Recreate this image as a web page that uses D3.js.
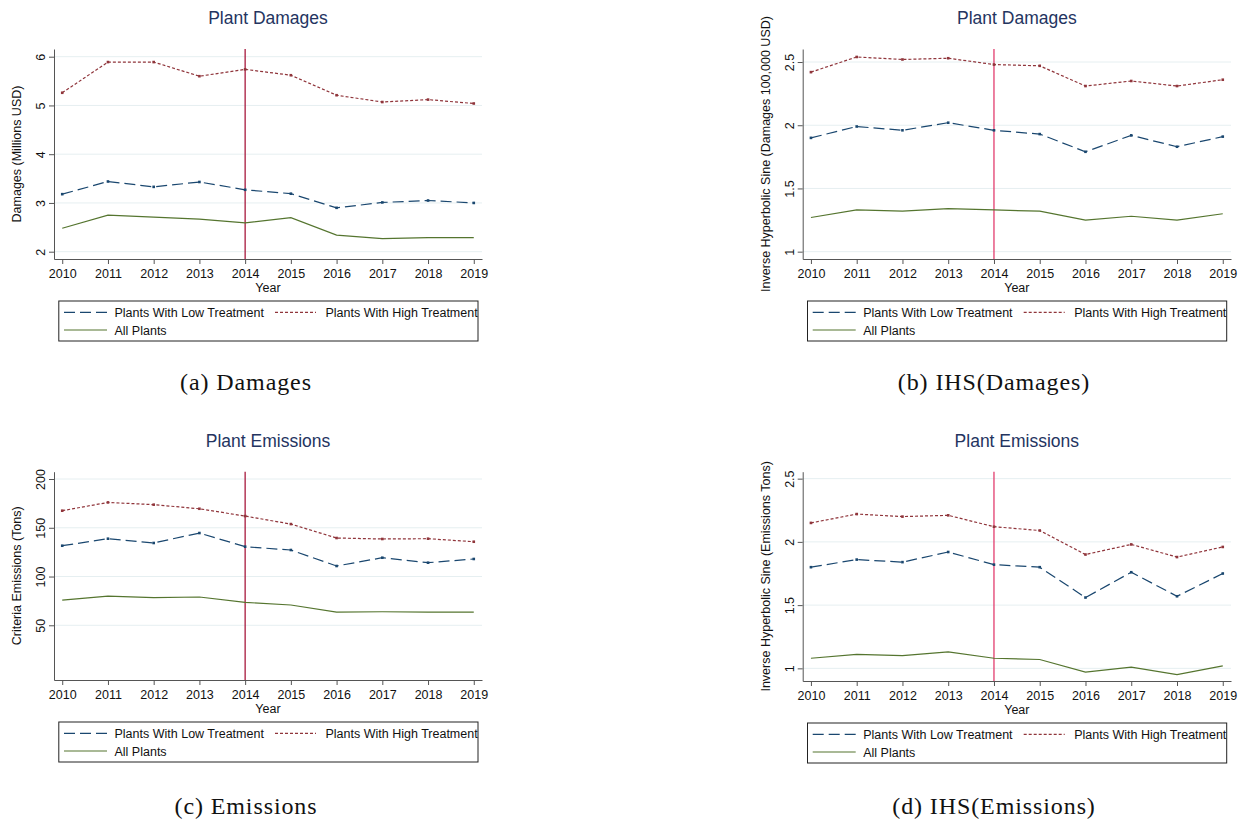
<!DOCTYPE html>
<html>
<head>
<meta charset="utf-8">
<script src="https://cdn.jsdelivr.net/npm/d3@7"></script>
<style>
  html, body { margin: 0; padding: 0; background: #ffffff; }
  svg { display: block; }
</style>
</head>
<body>
<svg id="chart" width="1245" height="820"></svg>
<script>
// ---------------- DATA ----------------
const years = [2010, 2011, 2012, 2013, 2014, 2015, 2016, 2017, 2018, 2019];
const treatmentYear = 2014;

const seriesLabels = ["Plants With Low Treatment", "Plants With High Treatment", "All Plants"];

// (a) Damages (Millions USD)
const damagesLow  = [3.18, 3.44, 3.33, 3.43, 3.27, 3.19, 2.90, 3.01, 3.05, 3.00];
const damagesHigh = [5.26, 5.89, 5.89, 5.60, 5.74, 5.62, 5.21, 5.07, 5.12, 5.04];
const damagesAll  = [2.48, 2.75, 2.71, 2.67, 2.59, 2.70, 2.34, 2.27, 2.29, 2.29];

// (b) IHS(Damages)
const ihsDamagesLow  = [1.90, 1.99, 1.96, 2.02, 1.96, 1.93, 1.79, 1.92, 1.83, 1.91];
const ihsDamagesHigh = [2.42, 2.54, 2.52, 2.53, 2.48, 2.47, 2.31, 2.35, 2.31, 2.36];
const ihsDamagesAll  = [1.27, 1.33, 1.32, 1.34, 1.33, 1.32, 1.25, 1.28, 1.25, 1.30];

// (c) Emissions (Tons)
const emissionsLow  = [131.6, 138.8, 134.4, 144.6, 130.6, 127.2, 110.8, 119.3, 114.2, 118.0];
const emissionsHigh = [167.5, 176.0, 173.7, 169.5, 162.0, 153.8, 139.5, 138.5, 138.8, 135.7];
const emissionsAll  = [75.9, 80.0, 78.3, 79.0, 73.5, 70.8, 63.6, 63.9, 63.6, 63.6];

// (d) IHS(Emissions)
const ihsEmissionsLow  = [1.80, 1.86, 1.84, 1.92, 1.82, 1.80, 1.56, 1.76, 1.57, 1.75];
const ihsEmissionsHigh = [2.15, 2.22, 2.20, 2.21, 2.12, 2.09, 1.90, 1.98, 1.88, 1.96];
const ihsEmissionsAll  = [1.08, 1.11, 1.10, 1.13, 1.08, 1.07, 0.97, 1.01, 0.95, 1.02];

// Tick labels
const damagesTicks   = [2, 3, 4, 5, 6];
const ihsTicks       = [1, 1.5, 2, 2.5];
const emissionsTicks = [50, 100, 150, 200];

const panelTitles = ["Plant Damages", "Plant Damages", "Plant Emissions", "Plant Emissions"];
const yTitles = ["Damages (Millions USD)", "Inverse Hyperbolic Sine (Damages 100,000 USD)",
                 "Criteria Emissions (Tons)", "Inverse Hyperbolic Sine (Emissions Tons)"];
const xTitle = "Year";
const captions = ["(a) Damages", "(b) IHS(Damages)", "(c) Emissions", "(d) IHS(Emissions)"];

// ---------------- STYLE ----------------
const colors = ["#1a476f", "#90353b", "#55752f"];
const dashes = ["11,5", "3,2", null];
const sansFont = "'Liberation Sans', Arial, Helvetica, sans-serif";
const serifFont = "'Liberation Serif', 'Times New Roman', serif";

const svg = d3.select("#chart");
svg.append("rect").attr("width", 1245).attr("height", 820).attr("fill", "#ffffff");

const panels = [
  { left: 54,    right: 482,  top: 49,    bottom: 259, yDomain: [1.850, 6.158], ticks: damagesTicks,
    series: [damagesLow, damagesHigh, damagesAll], vcolor: "#a8193d", titleY: 24, capY: 390, capX: 246 },
  { left: 802.7, right: 1231, top: 49,    bottom: 259, yDomain: [0.942, 2.603], ticks: ihsTicks,
    series: [ihsDamagesLow, ihsDamagesHigh, ihsDamagesAll], vcolor: "#e23d6e", titleY: 24, capY: 390, capX: 994 },
  { left: 54,    right: 482,  top: 471.7, bottom: 680, yDomain: [-6.1, 207.5], ticks: emissionsTicks,
    series: [emissionsLow, emissionsHigh, emissionsAll], vcolor: "#a8193d", titleY: 446.7, capY: 814, capX: 246 },
  { left: 802.7, right: 1231, top: 471.7, bottom: 681, yDomain: [0.90, 2.555], ticks: ihsTicks,
    series: [ihsEmissionsLow, ihsEmissionsHigh, ihsEmissionsAll], vcolor: "#e23d6e", titleY: 446.7, capY: 814, capX: 994 }
];

panels.forEach((p, i) => {
  const g = svg.append("g");
  const x = d3.scaleLinear().domain([2009.82, 2019.18]).range([p.left, p.right]);
  const y = d3.scaleLinear().domain(p.yDomain).range([p.bottom, p.top]);

  // gridlines
  g.append("g").selectAll("line").data(p.ticks).join("line")
    .attr("x1", p.left).attr("x2", p.right)
    .attr("y1", d => y(d)).attr("y2", d => y(d))
    .attr("stroke", "#e6eff1").attr("stroke-width", 1);

  // vertical treatment line
  g.append("line")
    .attr("x1", x(treatmentYear)).attr("x2", x(treatmentYear))
    .attr("y1", p.top).attr("y2", p.bottom)
    .attr("stroke", p.vcolor).attr("stroke-width", 1.3);

  // series lines
  p.series.forEach((vals, si) => {
    const pts = years.map((yr, k) => [yr, vals[k]]);
    const line = d3.line().x(d => x(d[0])).y(d => y(d[1]));
    g.append("path").datum(pts)
      .attr("d", line)
      .attr("fill", "none")
      .attr("stroke", colors[si])
      .attr("stroke-width", 1.2)
      .attr("stroke-dasharray", dashes[si]);
    if (si < 2) {
      g.append("g").selectAll("rect").data(pts).join("rect")
        .attr("x", d => x(d[0]) - 1.3).attr("y", d => y(d[1]) - 1.3)
        .attr("width", 2.6).attr("height", 2.6)
        .attr("fill", colors[si]);
    }
  });

  // y axis
  const yAxis = g.append("g").attr("transform", `translate(${p.left},0)`)
    .call(d3.axisLeft(y).tickValues(p.ticks).tickSize(5).tickSizeOuter(0).tickFormat(d => String(d)));
  yAxis.select(".domain").attr("stroke", "#555555");
  yAxis.selectAll(".tick line").attr("stroke", "#555555");
  yAxis.selectAll(".tick text")
    .attr("transform", "rotate(-90)")
    .attr("x", 0).attr("y", -9).attr("dy", 0)
    .attr("text-anchor", "middle")
    .attr("fill", "#111111")
    .style("font-family", sansFont).style("font-size", "12.5px");

  // x axis
  const xAxis = g.append("g").attr("transform", `translate(0,${p.bottom})`)
    .call(d3.axisBottom(x).tickValues(years).tickSize(5).tickSizeOuter(0).tickFormat(d3.format("d")));
  xAxis.select(".domain").attr("stroke", "#555555");
  xAxis.selectAll(".tick line").attr("stroke", "#555555");
  xAxis.selectAll(".tick text")
    .attr("y", 18.5).attr("dy", 0)
    .attr("fill", "#111111")
    .style("font-family", sansFont).style("font-size", "12.5px");

  // axis titles
  const cx = (p.left + p.right) / 2;
  g.append("text").attr("x", cx).attr("y", p.bottom + 32.5)
    .attr("text-anchor", "middle").attr("fill", "#111111")
    .style("font-family", sansFont).style("font-size", "12.5px").text(xTitle);
  g.append("text")
    .attr("transform", `translate(${p.left - 33},${(p.top + p.bottom) / 2}) rotate(-90)`)
    .attr("text-anchor", "middle").attr("fill", "#111111")
    .style("font-family", sansFont).style("font-size", "12.5px").text(yTitles[i]);

  // panel title
  g.append("text").attr("x", cx).attr("y", p.titleY)
    .attr("text-anchor", "middle").attr("fill", "#24345f")
    .style("font-family", sansFont).style("font-size", "17.5px").text(panelTitles[i]);

  // legend
  const lg = g.append("g").attr("transform", `translate(${p.left},${p.bottom})`);
  lg.append("rect").attr("x", 4.8).attr("y", 42).attr("width", 419.2).attr("height", 40)
    .attr("fill", "#ffffff").attr("stroke", "#222222").attr("stroke-width", 1);
  const items = [
    { sx: 10,  ex: 53,  tx: 60.5,  ly: 53.3, ty: 58.3 },
    { sx: 221, ex: 262, tx: 271.5, ly: 53.3, ty: 58.3 },
    { sx: 10,  ex: 53,  tx: 60.5,  ly: 71,   ty: 76 }
  ];
  items.forEach((it, si) => {
    lg.append("line").attr("x1", it.sx).attr("x2", it.ex).attr("y1", it.ly).attr("y2", it.ly)
      .attr("stroke", colors[si]).attr("stroke-width", 1.2).attr("stroke-dasharray", dashes[si]);
    lg.append("text").attr("x", it.tx).attr("y", it.ty).attr("fill", "#111111")
      .style("font-family", sansFont).style("font-size", "12.5px").text(seriesLabels[si]);
  });

  // caption
  svg.append("text").attr("x", p.capX).attr("y", p.capY)
    .attr("text-anchor", "middle").attr("fill", "#111111")
    .style("font-family", serifFont).style("font-size", "24px")
    .style("letter-spacing", "0.9px").text(captions[i]);
});
</script>
</body>
</html>
